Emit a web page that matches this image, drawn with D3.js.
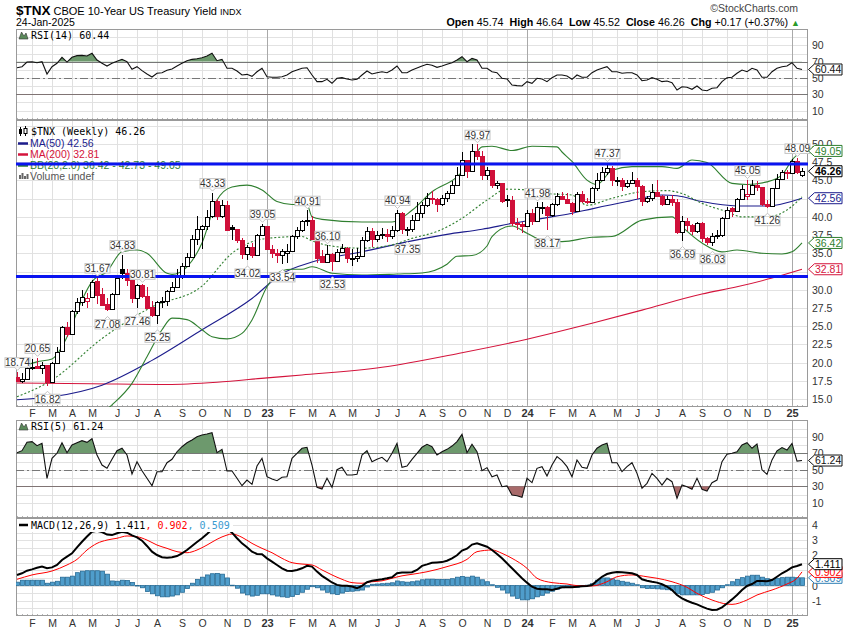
<!DOCTYPE html>
<html><head><meta charset="utf-8">
<script src="https://cdn.jsdelivr.net/npm/d3@7/dist/d3.min.js"></script>
<style>body{margin:0;background:#fff;} svg{display:block;font-family:"Liberation Sans",Arial,sans-serif;}</style>
</head><body><svg id="c" width="850" height="633"></svg>
<script>
// ---------- DATA (weekly, week starting Mon 17-Jan-2022) ----------
const weekStart = new Date(2022, 0, 17);
const open = [18.0,17.5,17.8,19.3,19.5,19.3,19.6,17.4,20.0,21.6, 24.9,23.9,27.1,28.3,28.4,29.0,31.2,29.4,28.0,27.4, 29.4,32.8,32.3,31.3,28.9,30.7,29.2,27.6,26.5,28.3, 28.4,29.8,30.4,32.0,33.2,34.5,37.0,38.3,38.8,40.1, 42.2,40.1,41.6,38.6,38.3,36.8,34.9,35.8,34.8,37.5, 38.8,35.6,35.1,34.8,35.1,35.3,37.4,38.2,39.5,39.6, 36.9,34.6,33.8,34.9,33.9,35.2,35.7,34.4,34.4,34.6, 36.8,38.0,36.9,37.5,37.6,37.4,38.2,40.5,38.3,38.4, 39.6,40.5,41.6,42.6,42.4,41.8,42.6,43.3,44.4,45.7, 47.8,46.3,49.1,48.4,45.7,46.5,44.4,44.7,42.5,42.3, 39.2,39.0,38.8,40.5,39.4,41.3,41.4,40.2,41.8,42.9, 42.5,41.9,40.8,43.1,42.2,42.0,43.9,45.0,46.2,46.7, 45.0,45.0,44.2,44.6,45.0,44.3,42.2,42.6,43.4,42.8, 41.8,42.4,42.0,37.9,39.4,38.9,38.0,39.1,37.1,36.6, 37.4,37.5,39.8,41.2,40.8,42.4,42.9,43.1,44.4,44.1, 41.8,41.5,43.9,45.2,46.2,46.0,47.7,45.74];
const high = [18.74,18.6,19.4,20.5,20.65,20.1,19.7,20.1,22.2,25.0, 25.6,27.2,28.8,30.0,29.5,31.3,31.67,30.3,28.9,29.6, 31.7,34.83,32.8,31.4,30.78,30.81,30.4,28.5,28.4,29.0, 30.0,31.1,32.8,33.6,35.0,37.5,40.1,38.9,40.9,43.33, 42.5,42.3,42.2,38.9,38.4,37.1,36.2,36.4,37.6,39.05, 38.8,36.1,35.6,35.6,36.3,37.5,38.6,39.6,40.91,40.1, 37.2,35.5,36.10,35.0,35.6,36.3,35.8,35.6,35.7,37.2, 38.6,38.5,38.1,38.5,38.4,38.8,40.94,40.7,38.6,40.2, 42.0,42.0,43.3,43.5,42.6,43.0,43.5,44.9,46.9,48.9, 47.8,49.95,49.97,49.0,46.9,46.5,44.9,44.7,43.0,42.9, 39.8,39.3,41.0,41.1,41.98,42.0,41.5,41.9,43.3,43.4, 43.3,42.0,43.4,43.5,42.6,44.1,46.0,46.9,47.37,47.0, 45.5,45.4,45.0,46.2,45.3,44.4,42.9,44.5,45.0,43.0, 42.9,43.0,42.4,40.1,39.9,39.0,39.3,39.3,37.3,37.8, 38.2,40.0,41.3,41.4,42.6,44.4,45.05,45.0,44.9,44.1, 42.3,44.0,45.9,46.4,46.4,48.0,48.09,46.64];
const low = [17.3,17.2,17.6,19.0,19.2,18.4,16.82,17.2,19.8,21.5, 23.5,23.8,26.7,27.8,27.5,28.9,28.1,27.7,27.08,27.3, 29.3,31.5,30.5,28.2,27.46,28.9,27.4,26.3,25.25,27.5, 27.7,29.7,30.3,31.5,33.1,34.5,36.2,35.6,38.2,39.9, 39.6,39.9,38.1,36.8,36.4,34.2,34.02,34.3,34.8,37.4, 35.5,34.3,33.7,33.54,33.6,35.2,36.9,37.9,38.8,36.8, 33.7,33.8,33.7,32.53,33.9,35.1,33.7,33.2,33.8,34.5, 36.5,35.8,36.6,36.9,36.6,36.9,37.9,37.6,37.35,37.9, 39.5,39.9,41.4,41.8,40.6,41.5,42.1,43.1,44.4,45.6, 45.3,46.1,47.8,45.0,45.0,44.0,43.8,41.9,41.3,38.8, 38.2,37.8,38.7,38.9,39.4,40.4,38.17,40.0,41.5,42.3, 41.7,40.3,40.7,41.9,41.8,42.0,43.6,45.0,45.8,44.2, 44.3,43.5,43.9,44.6,42.5,41.5,41.9,42.2,42.7,41.5, 41.6,41.5,37.7,36.69,38.1,37.5,37.8,36.5,36.1,36.03, 36.9,37.3,39.7,40.0,40.7,42.4,42.3,43.0,43.5,41.5, 41.26,41.4,43.9,45.1,45.2,46.0,45.9,45.52];
const close = [17.5,17.8,19.3,19.4,19.3,19.7,17.4,20.0,21.5,24.9, 23.9,27.1,28.3,29.0,28.9,31.0,29.3,27.9,27.4,29.4, 31.6,32.3,31.3,28.9,30.7,29.2,27.5,26.5,28.3,28.4, 29.8,30.4,31.9,33.2,34.5,36.9,38.3,38.8,40.0,42.2, 40.1,41.6,38.2,38.3,36.8,34.9,35.8,34.8,37.5,38.8, 35.6,35.1,34.8,35.3,35.3,37.4,38.2,39.5,39.6,36.9, 34.3,33.8,34.9,33.9,35.2,35.7,34.4,34.4,34.6,36.8, 38.0,36.9,37.5,37.6,37.4,38.2,40.5,38.3,38.4,39.6, 40.5,41.6,42.6,42.4,41.8,42.6,43.3,44.4,45.7,47.8, 46.3,49.1,48.4,45.7,46.5,44.4,44.7,42.2,42.3,39.2, 39.0,38.8,40.5,39.4,41.3,41.4,40.2,41.8,42.9,42.5, 41.9,40.8,43.1,42.2,42.0,43.9,45.0,46.2,46.7,45.0, 45.0,44.2,44.6,45.0,44.3,42.2,42.6,43.4,42.8,41.8, 42.4,42.0,37.9,39.4,38.9,38.0,39.1,37.1,36.6,37.4, 37.5,39.8,41.0,40.8,42.4,43.8,43.1,44.4,44.1,41.8, 41.5,43.9,45.2,46.2,46.0,47.7,46.1,46.26];

// moving averages / Bollinger bands (week index, value)
const ma50Idx = [0,7,17,27,37,47,53,59,69,79,86,93,99,106,111,115,122,129,132,137,144,150,157];
const ma50Val = [14.9,15.3,16.9,20.3,24.5,28.8,32.2,33.8,35.2,36.7,37.6,38.3,39.1,39.9,40.5,41.1,42.1,43.0,42.9,42.1,41.5,41.5,42.56];
const ma200Idx = [0,15,30,40,50,57,73,89,102,111,115,125,137,144,151,157];
const ma200Val = [17.2,17.1,17.0,17.3,17.9,18.3,19.35,21.35,23.2,24.7,25.4,27.2,29.4,30.4,31.6,32.81];
const bbUpIdx = [0,4,7,10,13,15,18,21,24,26,30,31,34,37,40,43,46,49,52,55,58,59,61,69,75,79,83,88,91,93,95,99,103,108,109,111,114,116,119,123,129,132,135,138,143,146,150,153,155,157];
const bbUpVal = [19.2,20.1,20.5,23.5,28.6,31.1,32.5,35.2,35.45,35.0,32.25,32.1,33.15,36.4,42.3,44.1,44.35,43.7,42.1,41.7,41.7,40.0,39.65,39.3,39.3,40.9,43.45,45.5,47.8,49.6,49.7,49.1,49.7,49.6,48.9,47.6,45.05,44.45,46.4,46.9,46.9,46.65,47.8,47.45,44.6,44.45,44.8,45.75,47.8,49.05];
const bbMidIdx = [0,7,17,27,37,43,50,57,59,64,69,75,79,84,89,94,98,102,106,111,114,119,125,130,133,137,142,145,150,154,157];
const bbMidVal = [15.3,17.6,23.3,27.65,30.5,35.0,37.05,37.3,36.7,35.9,35.7,36.15,37.05,38.0,39.8,42.3,43.8,43.7,43.2,43.0,41.6,42.55,43.45,43.6,43.2,41.85,40.7,40.0,40.0,40.95,42.73];
const bbLoIdx = [16,19,23,26,29,31,34,37,39,42,45,47,50,53,55,57,59,63,69,76,81,86,88,91,94,95,99,102,105,109,115,119,125,131,133,137,141,144,149,153,155,157];
const bbLoVal = [12.5,14.2,17.15,20.8,24.5,26.1,25.9,24.5,23.55,23.25,24.0,25.85,30.4,32.6,32.8,32.8,33.15,32.25,32.0,32.15,32.3,33.5,34.6,34.7,36.0,37.3,38.75,37.75,36.8,36.6,37.2,37.3,39.55,40.0,38.65,36.4,35.2,35.45,35.0,34.9,35.2,36.42];
const levelLines = [47.25, 31.8];

// high / low annotations
const annIdx  = [0,4,6,16,18,21,24,25,28,39,46,49,53,58,62,63,76,78,92,104,106,118,133,139,146,150,156];
const annType = ['H','H','L','H','L','H','L','H','L','H','L','H','L','H','H','L','H','L','H','H','L','H','L','L','H','L','H'];

const rsi14 = [62.6,63.9,69.6,70,68.8,70,54.9,63.9,68,75.4, 69.6,75.4,77.4,77.8,77,80.3,72.1,68,64.7,68, 70.5,72.9,70,60.7,63.9,59,54.9,51.2,55.8,56.5, 59.4,61,64.7,68,71.2,72.9,73.7,74.9,77,80.3, 71.2,72.9,61.9,61.9,58.6,53.7,54.5,52.1,57.7,61.9, 51.6,50.9,50.9,51.6,53.7,57.7,59.8,61.9,62.6,53.7, 45.5,45.5,48.4,43.5,49.6,50.4,48.8,47.5,48.4,53.7, 58.6,54.9,56.5,57.7,56.5,59.8,64.7,56.5,56.5,59.8, 62.3,64.7,66.8,65.6,63.1,64.7,66.8,68.8,72.1,76.1, 70,74.1,72.1,61.9,61.9,57.7,56.5,49.6,48.8,41.4, 40.6,40.2,45.5,43.5,49.6,48.8,45.5,50.4,53.7,53.7, 52.5,48.4,53.7,50.9,50.9,56.5,59.8,61.9,63.9,57.7, 57.7,55.8,56.5,56.5,53.7,46.7,47.5,50.4,48.4,45.5, 46.3,44.2,35.3,39.3,38.6,36.1,40.2,35.3,34.4,37.4, 38.1,45.5,50.4,50.9,55.8,59.8,57.7,61.9,59.8,50.9, 50.9,57.7,61.9,63.9,64.7,68.8,61.9,60.44];
const rsi5 = [70.7,73.2,83.3,84.1,79.2,82.1,39.7,63.9,70,82.8, 70.7,80.1,82.8,85.3,83.3,87.7,67.9,55.8,51.8,62.7, 73.2,76.1,67.9,44.9,59.8,48.9,39.7,30.7,47.7,47.7, 58.6,62.7,71.9,78,82.8,86.1,90.1,92.2,93.4,95, 70.7,74.8,48.5,48.5,39.7,30.7,37.6,32.4,54.6,63.9, 41.6,38.8,36.8,40.9,41.6,63.9,70,76.1,77.3,55.8, 28.8,26.7,39.7,28.8,50.1,53,43.7,43.7,44.5,67.9, 73.2,59.8,62.7,65.1,59.8,70,82.1,53,54.6,62.7, 70,77.3,80.9,78,67.9,71.9,74.8,78.8,84.1,93.0, 70.7,80.9,71.9,48.9,52.6,41.6,43.7,29.5,30.4,19.5, 18.6,16.7,39.7,34.4,51.8,53.8,42.5,55.8,65.9,61.1, 53.8,41.6,61.9,53,51.8,67.9,76.1,80.1,82.1,58.6, 58.6,47.7,53.8,58.6,45.7,27.6,33.6,45.7,39.7,31.6, 39.7,35.6,15.4,31.6,29.5,26.4,39.7,26.4,24.3,34.4, 37.6,59.8,68.8,70,71.9,80.1,82.8,76.1,81.3,50, 44.5,62,73,77,74,82,60.5,61.24];
const macd = [0.70,0.81,0.98,1.07,1.18,1.25,1.14,1.20,1.36,1.69, 1.91,2.13,2.53,2.90,3.24,3.56,3.63,3.54,3.37,3.34, 3.46,3.56,3.50,3.32,3.19,2.97,2.62,2.24,2.02,1.87, 1.84,1.87,1.95,2.13,2.35,2.62,2.88,3.13,3.41,3.72, 3.90,3.94,3.79,3.50,3.13,2.79,2.53,2.24,2.09,2.07, 1.80,1.58,1.36,1.14,0.98,0.96,1.03,1.14,1.30,1.25, 0.92,0.64,0.42,0.20,0.04,-0.02,-0.02,-0.07,-0.18,-0.02, 0.22,0.31,0.37,0.42,0.48,0.55,0.81,0.86,0.86,0.88, 1.03,1.30,1.40,1.51,1.53,1.55,1.64,1.80,2.00,2.31, 2.44,2.71,2.79,2.68,2.57,2.35,2.09,1.80,1.47,1.14, 0.81,0.48,0.19,-0.08,-0.21,-0.25,-0.25,-0.30,-0.21,-0.12, -0.12,-0.12,-0.08,-0.05,-0.03,0.03,0.32,0.58,0.76,0.85, 0.89,0.87,0.85,0.81,0.70,0.41,0.32,0.25,0.19,0.08, -0.08,-0.30,-0.63,-0.85,-1.01,-1.14,-1.25,-1.40,-1.53,-1.62, -1.60,-1.45,-1.19,-0.92,-0.63,-0.30,-0.03,0.10,0.30,0.30, 0.28,0.36,0.58,0.81,0.98,1.20,1.29,1.411];
const sigIdx = [0,3,7,10,12,14,16,18,20,22,24,26,28,30,32,34,36,38,40,42,43,45,47,49,51,53,55,57,59,61,63,65,67,69,71,73,75,77,79,82,86,90,92,95,97,99,102,104,107,110,112,115,118,120,123,126,128,131,134,136,139,142,143,146,148,151,154,156,157];
const sigVal = [0.41,0.70,0.96,1.36,1.73,2.35,2.79,3.01,3.13,3.28,3.23,3.01,2.68,2.46,2.24,2.17,2.35,2.68,3.06,3.34,3.41,3.19,2.79,2.46,2.17,1.80,1.51,1.42,1.36,1.03,0.70,0.41,0.19,0.15,0.25,0.31,0.48,0.64,0.74,0.91,1.25,1.73,2.24,2.35,2.13,1.80,1.14,0.48,0.19,0.10,-0.01,-0.03,0.25,0.58,0.70,0.58,0.48,0.25,-0.12,-0.52,-0.96,-1.23,-1.25,-0.96,-0.63,-0.30,0.10,0.48,0.902];
const hist = [0.22,0.35,0.35,0.35,0.35,0.35,0.15,0.22,0.28,0.55, 0.55,0.62,0.85,0.95,0.98,0.98,0.98,0.95,0.75,0.30, 0.28,0.35,0.33,0.20,-0.02,-0.15,-0.40,-0.55,-0.68,-0.75, -0.75,-0.70,-0.62,-0.45,-0.20,0.15,0.40,0.55,0.70,0.78, 0.80,0.75,0.50,0.02,-0.18,-0.50,-0.62,-0.70,-0.65,-0.55, -0.55,-0.62,-0.70,-0.75,-0.78,-0.72,-0.60,-0.45,-0.25,-0.08, -0.15,-0.30,-0.45,-0.55,-0.60,-0.50,-0.40,-0.38,-0.35,-0.30, -0.10,0.08,0.10,0.12,0.15,0.18,0.30,0.25,0.22,0.25, 0.30,0.38,0.42,0.42,0.40,0.40,0.40,0.45,0.55,0.60, 0.55,0.62,0.55,0.38,0.25,0.05,-0.12,-0.30,-0.50,-0.70, -0.85,-0.95,-0.95,-0.88,-0.75,-0.65,-0.50,-0.38,-0.25,-0.15, -0.10,-0.08,-0.12,-0.05,0.02,0.12,0.35,0.50,0.50,0.45, 0.35,0.28,0.22,0.15,0.05,-0.15,-0.20,-0.20,-0.22,-0.24, -0.28,-0.32,-0.55,-0.62,-0.62,-0.62,-0.62,-0.60,-0.52,-0.45, -0.30,-0.15,0.05,0.25,0.40,0.52,0.62,0.68,0.68,0.55, 0.45,0.40,0.48,0.52,0.55,0.55,0.52,0.509];

const mainTicks = [15,17.5,20,22.5,25,27.5,30,32.5,35,37.5,40,42.5,45,47.5,50];
const rsiTicks = [10,30,50,70,90];
const macdTicks = [-1,0,1,2,3,4];

// ---------- LAYOUT ----------
const svg = d3.select('#c');
const L = 16, R = 808;
const N = close.length;
const RED = '#d0103a', NAVY = '#1c1c8c', GREEN = '#2f7f2f', MA200C = '#d4143c';
const dates = d3.range(N).map(i => d3.timeDay.offset(weekStart, 7 * i));
const x = d3.scaleLinear().domain([0, N - 1]).range([17, 802]);
const P = {
  r14: {y0: 29, y1: 120, y: d3.scaleLinear().domain([30, 70]).range([94.3, 61.7])},
  main: {y0: 120, y1: 407, y: d3.scaleLinear().domain([15, 50]).range([399, 144])},
  r5: {y0: 420, y1: 518, y: d3.scaleLinear().domain([30, 70]).range([486.3, 453.3])},
  md: {y0: 518, y1: 616, y: d3.scaleLinear().domain([0, 4]).range([585.5, 525.1])}
};
const monthTicks = [];
for (let i = 1; i < N; i++) if (dates[i].getMonth() !== dates[i - 1].getMonth()) monthTicks.push(i);
const ML = ['J','F','M','A','M','J','J','A','S','O','N','D'];

const defs = svg.append('defs');
Object.entries(P).forEach(([k, p]) => {
  defs.append('clipPath').attr('id', 'cp-' + k).append('rect')
    .attr('x', L).attr('y', p.y0).attr('width', R - L).attr('height', p.y1 - p.y0);
});

function frame(p, gridVals) {
  const g = svg.append('g').attr('shape-rendering', 'crispEdges');
  g.append('rect').attr('x', L).attr('y', p.y0).attr('width', R - L).attr('height', p.y1 - p.y0).attr('fill', '#fff');
  gridVals.forEach(v => {
    const yy = Math.round(p.y(v)) + 0.5;
    if (yy > p.y0 + 1 && yy < p.y1 - 1)
      g.append('line').attr('x1', L).attr('x2', R).attr('y1', yy).attr('y2', yy).attr('stroke', '#e2e2e2');
  });
  monthTicks.forEach(i => {
    const xx = Math.round(x(i)) + 0.5;
    g.append('line').attr('x1', xx).attr('x2', xx).attr('y1', p.y0).attr('y2', p.y1)
      .attr('stroke', dates[i].getMonth() === 0 ? '#a9a9a9' : '#e0e0e0');
  });
  d3.range(N).forEach(i => {
    const xx = Math.round(x(i)) + 0.5;
    g.append('line').attr('x1', xx).attr('x2', xx).attr('y1', p.y1 - 2).attr('y2', p.y1).attr('stroke', '#b5b5b5');
  });
  g.append('rect').attr('x', L + 0.5).attr('y', p.y0 + 0.5).attr('width', R - L - 1).attr('height', p.y1 - p.y0 - 1)
    .attr('fill', 'none').attr('stroke', '#9a9a9a');
  return g;
}
// axis labels; a label that sits under a value tag is hidden, as in the original
function axisLabels(p, ticks, fmt, tagYs) {
  ticks.forEach(v => {
    const yy = p.y(v);
    if (tagYs.some(t => Math.abs(t - yy) < 6.5)) return;
    svg.append('text').attr('x', 812).attr('y', yy + 4).attr('font-size', 10.5).attr('fill', '#333').text(fmt(v));
  });
}
function tag(y, txt, color, bold) {
  const g = svg.append('g');
  g.append('path').attr('d', `M808.5,${y} L814.5,${y - 5.5} L842,${y - 5.5} L842,${y + 5.5} L814.5,${y + 5.5} Z`)
    .attr('fill', '#fff').attr('stroke', color).attr('stroke-width', 1);
  g.append('text').attr('x', 815).attr('y', y + 3.8).attr('font-size', 10.5).attr('fill', color)
    .attr('font-weight', bold ? 'bold' : 'normal').text(txt);
}
function monthAxis(yText) {
  monthTicks.forEach(i => {
    const m = dates[i].getMonth();
    svg.append('text').attr('x', x(i) + 0.5).attr('y', yText).attr('text-anchor', 'middle')
      .attr('font-size', m === 0 ? 11 : 10.5).attr('font-weight', m === 0 ? 'bold' : 'normal').attr('fill', '#333')
      .text(m === 0 ? String(dates[i].getFullYear() % 100) : ML[m]);
  });
}
const mono = '"DejaVu Sans Mono", "Liberation Mono", monospace';

// ---------- HEADER ----------
const hd = svg.append('text').attr('x', 16).attr('y', 15);
hd.append('tspan').attr('font-weight', 'bold').attr('font-size', 13.5).text('$TNX');
hd.append('tspan').attr('font-size', 11).attr('dx', 3).text('CBOE 10-Year US Treasury Yield');
hd.append('tspan').attr('font-size', 9).attr('dx', 3).text('INDX');
svg.append('text').attr('x', 16).attr('y', 26).attr('font-size', 10.5).text('24-Jan-2025');
svg.append('text').attr('x', 798).attr('y', 12).attr('text-anchor', 'end').attr('font-size', 10.5).attr('fill', '#444').text('\u00A9StockCharts.com');
const ohlc = svg.append('text').attr('x', 800).attr('y', 26).attr('text-anchor', 'end').attr('font-size', 10.7);
[['Open', ' 45.74  '], ['High', ' 46.64  '], ['Low', ' 45.52  '], ['Close', ' 46.26  '], ['Chg', ' +0.17 (+0.37%) ']].forEach(([a, b]) => {
  ohlc.append('tspan').attr('font-weight', 'bold').text(a);
  ohlc.append('tspan').attr('xml:space', 'preserve').text(b);
});
ohlc.append('tspan').attr('fill', '#2a9a2a').attr('font-size', 9).text('\u25B2');

// ---------- RSI panels ----------
function rsiPanel(p, key, data, label, tagVal) {
  frame(p, d3.range(10, 101, 10));
  const g = svg.append('g').attr('clip-path', `url(#cp-${key})`);
  [70, 30].forEach(v => g.append('line').attr('x1', L).attr('x2', R).attr('y1', Math.round(p.y(v)) + 0.5).attr('y2', Math.round(p.y(v)) + 0.5).attr('stroke', '#777'));
  g.append('line').attr('x1', L).attr('x2', R).attr('y1', Math.round(p.y(50)) + 0.5).attr('y2', Math.round(p.y(50)) + 0.5)
    .attr('stroke', '#777').attr('stroke-dasharray', '8,3,2,3');
  const cid = 'cl-' + key;
  defs.append('clipPath').attr('id', cid + 'u').append('rect').attr('x', L).attr('y', p.y0).attr('width', R - L).attr('height', p.y(70) - p.y0);
  defs.append('clipPath').attr('id', cid + 'd').append('rect').attr('x', L).attr('y', p.y(30)).attr('width', R - L).attr('height', p.y1 - p.y(30));
  g.append('path').attr('clip-path', `url(#${cid}u)`).attr('fill', '#6d996d')
    .attr('d', d3.area().x((d, i) => x(i)).y0(p.y(70)).y1(d => p.y(d))(data));
  g.append('path').attr('clip-path', `url(#${cid}d)`).attr('fill', '#a86a6a')
    .attr('d', d3.area().x((d, i) => x(i)).y0(p.y(30)).y1(d => p.y(d))(data));
  g.append('path').attr('fill', 'none').attr('stroke', '#111').attr('stroke-width', 1.1)
    .attr('d', d3.line().x((d, i) => x(i)).y(d => p.y(d))(data));
  svg.append('path').attr('d', `M19,${p.y0 + 10} L21.5,${p.y0 + 3} L24,${p.y0 + 7} L26,${p.y0 + 4} L28,${p.y0 + 10} Z`).attr('fill', '#5b8a5b').attr('stroke', '#333').attr('stroke-width', 0.6);
  svg.append('text').attr('x', 31).attr('y', p.y0 + 10).attr('font-family', mono).attr('font-size', 10).text(label);
  axisLabels(p, rsiTicks, d => d, [p.y(tagVal)]);
  tag(p.y(tagVal), tagVal.toFixed(2), '#111', false);
}
rsiPanel(P.r14, 'r14', rsi14, 'RSI(14) 60.44', 60.44);

// ---------- MAIN ----------
const pm = P.main, ym = pm.y;
frame(pm, d3.range(15, 52.6, 2.5));
const gm = svg.append('g').attr('clip-path', 'url(#cp-main)');
const sparse = (idx, val, y) => d3.line().curve(d3.curveMonotoneX).x((d, k) => x(idx[k])).y((d, k) => y(val[k]))(val);
gm.append('path').attr('fill', 'none').attr('stroke', MA200C).attr('stroke-width', 1.1).attr('d', sparse(ma200Idx, ma200Val, ym));
gm.append('path').attr('fill', 'none').attr('stroke', NAVY).attr('stroke-width', 1.1).attr('d', sparse(ma50Idx, ma50Val, ym));
gm.append('path').attr('fill', 'none').attr('stroke', GREEN).attr('stroke-width', 1.1).attr('d', sparse(bbUpIdx, bbUpVal, ym));
gm.append('path').attr('fill', 'none').attr('stroke', GREEN).attr('stroke-width', 1.1).attr('d', sparse(bbLoIdx, bbLoVal, ym));
gm.append('path').attr('fill', 'none').attr('stroke', GREEN).attr('stroke-width', 1.1).attr('stroke-dasharray', '2,2').attr('d', sparse(bbMidIdx, bbMidVal, ym));

const lg = svg.append('g');
lg.append('line').attr('x1', 20.5).attr('x2', 20.5).attr('y1', 127).attr('y2', 136).attr('stroke', '#000');
lg.append('rect').attr('x', 19).attr('y', 129).attr('width', 3).attr('height', 5).attr('fill', '#000');
lg.append('line').attr('x1', 25.5).attr('x2', 25.5).attr('y1', 126).attr('y2', 136).attr('stroke', '#000');
lg.append('rect').attr('x', 24).attr('y', 128.5).attr('width', 3).attr('height', 5).attr('fill', '#fff').attr('stroke', '#000');
lg.append('text').attr('x', 31).attr('y', 135).attr('font-family', mono).attr('font-size', 10).text('$TNX (Weekly) 46.26');
[['MA(50) 42.56', NAVY, 147], ['MA(200) 32.81', MA200C, 158], ['BB(20,2.0) 36.42 - 42.73 - 49.05', GREEN, 169]].forEach(([t, c, yy]) => {
  lg.append('line').attr('x1', 18).attr('x2', 28).attr('y1', yy - 3.5).attr('y2', yy - 3.5).attr('stroke', c).attr('stroke-width', 2.5);
  lg.append('text').attr('x', 30).attr('y', yy).attr('font-size', 10.5).attr('fill', c).text(t);
});
[[19, 4], [21.5, 6], [24, 3], [26.5, 5]].forEach(([bx, bh]) => lg.append('rect').attr('x', bx).attr('y', 179 - bh).attr('width', 2).attr('height', bh).attr('fill', '#666'));
lg.append('text').attr('x', 30).attr('y', 180).attr('font-size', 10.5).attr('fill', '#555').text('Volume undef');

// candles: 4-px bodies with a 1-px gap, like the original
const gc = svg.append('g').attr('clip-path', 'url(#cp-main)').attr('shape-rendering', 'crispEdges');
d3.range(N).forEach(i => {
  const o = open[i], h = high[i], l = low[i], c = close[i];
  const down = i === 0 ? c < o : c < close[i - 1];
  const col = down ? RED : '#000';
  const cx = Math.round(x(i));
  gc.append('line').attr('x1', cx + 0.5).attr('x2', cx + 0.5).attr('y1', ym(h)).attr('y2', ym(l)).attr('stroke', col);
  const top = Math.round(ym(Math.max(o, c))), bot = Math.round(ym(Math.min(o, c)));
  gc.append('rect').attr('x', cx - 1.5).attr('y', top + 0.5).attr('width', 3.5).attr('height', Math.max(1, bot - top))
    .attr('fill', c >= o ? '#fff' : col).attr('stroke', col);
});

levelLines.forEach(v => svg.append('line').attr('x1', L).attr('x2', R).attr('y1', ym(v)).attr('y2', ym(v))
  .attr('stroke', '#0a14f0').attr('stroke-width', 3));

const ga = svg.append('g');
annIdx.forEach((i, k) => {
  const isH = annType[k] === 'H';
  const v = isH ? high[i] : low[i];
  const cx = x(i) + 0.5, w = 25, hh = 9.5;
  const yv = ym(v);
  const by = isH ? yv - 4.5 - hh : yv + 8.5;
  ga.append('rect').attr('x', cx - w / 2).attr('y', by).attr('width', w).attr('height', hh)
    .attr('fill', '#fff').attr('stroke', '#c4c4c4');
  if (isH) ga.append('path').attr('d', `M${cx - 3},${by + hh} L${cx},${by + hh + 3} L${cx + 3},${by + hh}`).attr('fill', '#fff').attr('stroke', '#c4c4c4');
  else ga.append('path').attr('d', `M${cx - 3},${by} L${cx},${by - 3} L${cx + 3},${by}`).attr('fill', '#fff').attr('stroke', '#c4c4c4');
  ga.append('text').attr('x', cx).attr('y', by + 8.3).attr('text-anchor', 'middle').attr('font-size', 10).attr('fill', '#333').text(v.toFixed(2));
});
const mainTags = [[49.05, GREEN, false], [46.26, '#000', true], [42.56, NAVY, false], [36.42, GREEN, false], [32.81, MA200C, false]];
axisLabels(pm, mainTicks, d => d.toFixed(1), mainTags.map(t => ym(t[0])).filter(t => Math.abs(t - ym(50)) > 6));
monthAxis(417);
mainTags.forEach(([v, c, b]) => tag(ym(v), v.toFixed(2), c, b));

rsiPanel(P.r5, 'r5', rsi5, 'RSI(5) 61.24', 61.24);

// ---------- MACD ----------
const pd = P.md, yd = pd.y;
frame(pd, d3.range(-2, 5, 0.5));
const gd = svg.append('g').attr('clip-path', 'url(#cp-md)');
hist.forEach((v, i) => {
  const cx = Math.round(x(i));
  const y0 = yd(0), y1 = yd(v);
  gd.append('rect').attr('x', cx - 1.5).attr('y', Math.min(y0, y1)).attr('width', 4).attr('height', Math.max(0.5, Math.abs(y1 - y0)))
    .attr('fill', '#4f9dcb').attr('stroke', '#276b96').attr('stroke-width', 0.8);
});
gd.append('path').attr('fill', 'none').attr('stroke', '#f00').attr('stroke-width', 1).attr('d', sparse(sigIdx, sigVal, yd));
gd.append('path').attr('fill', 'none').attr('stroke', '#000').attr('stroke-width', 2).attr('d', d3.line().x((d, i) => x(i)).y(d => yd(d))(macd));
svg.append('rect').attr('x', 17).attr('y', 519).attr('width', 216).attr('height', 13).attr('fill', '#fff');
svg.append('line').attr('x1', 19).attr('x2', 28).attr('y1', 525).attr('y2', 525).attr('stroke', '#000').attr('stroke-width', 2.5);
const mt = svg.append('text').attr('x', 31).attr('y', 529).attr('font-family', mono).attr('font-size', 10);
mt.append('tspan').text('MACD(12,26,9) 1.411');
mt.append('tspan').attr('fill', '#f00').text(', 0.902');
mt.append('tspan').attr('fill', '#3a9ad0').text(', 0.509');
const macdTags = [[0.509, '#2f7fb5'], [0.902, '#f00'], [1.411, '#000']];
axisLabels(pd, macdTicks, d => d, macdTags.map(t => yd(t[0])).filter(t => Math.abs(t - yd(0)) > 6));
monthAxis(627);
macdTags.forEach(([v, c]) => tag(yd(v), v.toFixed(3), c, false));
</script></body></html>
